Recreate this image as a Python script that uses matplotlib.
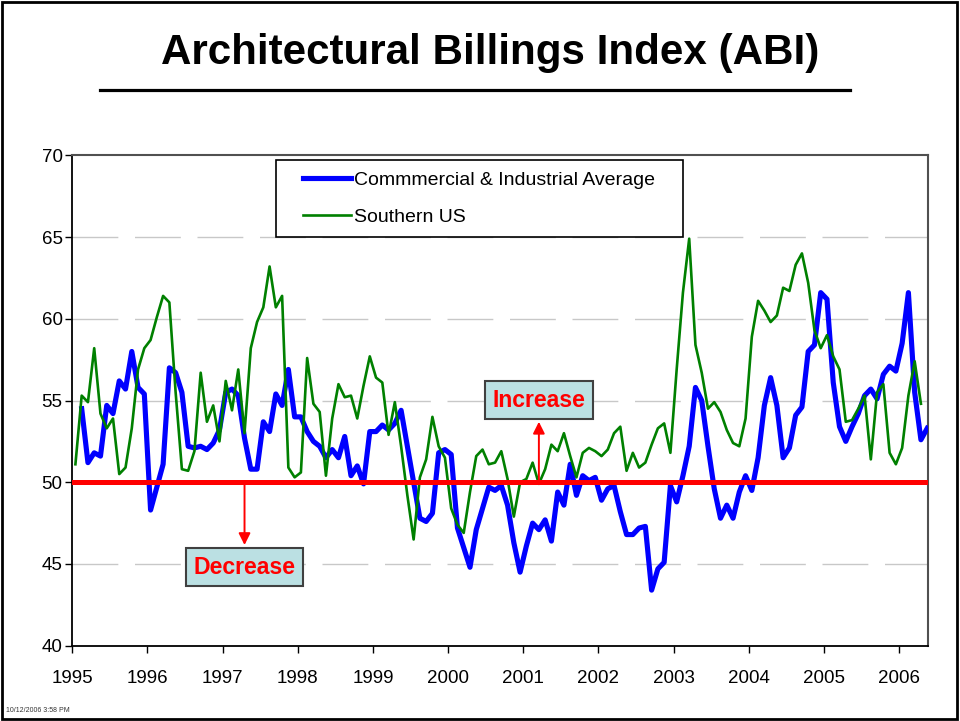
import numpy as np
import matplotlib
matplotlib.use("Agg")
import matplotlib.pyplot as plt
from matplotlib.patches import Rectangle
from matplotlib.lines import Line2D

plt.rcParams['font.family'] = ['Liberation Sans', 'DejaVu Sans']

# ---------------- data ----------------
title = "Architectural Billings Index (ABI)"
series_names = ["Commmercial & Industrial Average", "Southern US"]

# Commercial & Industrial Average, monthly, starting Feb 1995
ci_start = (1995, 2)
ci_values = [
    54.5, 51.2, 51.8, 51.6, 54.7, 54.2, 56.2, 55.7, 58.0, 55.8, 55.4,
    48.3, 49.7, 51.1, 57.0, 56.7, 55.5, 52.2, 52.1, 52.2, 52.0, 52.4, 53.2,
    55.5, 55.7, 55.3, 52.7, 50.8, 50.8, 53.7, 53.1, 55.4, 54.7, 56.9, 54.0,
    54.0, 53.1, 52.5, 52.2, 51.5, 52.0, 51.5, 52.8, 50.4, 51.0, 49.9, 53.1,
    53.1, 53.5, 53.2, 53.6, 54.4, 52.2, 50.0, 47.8, 47.6, 48.1, 51.8, 52.0,
    51.7, 47.2, 46.0, 44.8, 47.1, 48.4, 49.7, 49.5, 49.8, 48.6, 46.3, 44.5,
    46.1, 47.5, 47.1, 47.7, 46.4, 49.4, 48.6, 51.1, 49.2, 50.4, 50.1, 50.3,
    48.9, 49.6, 49.8, 48.2, 46.8, 46.8, 47.2, 47.3, 43.4, 44.7, 45.1, 49.8,
    48.8, 50.4, 52.2, 55.8, 55.0, 52.2, 49.6, 47.8, 48.6, 47.8, 49.4, 50.4,
    49.5, 51.5, 54.7, 56.4, 54.7, 51.5, 52.1, 54.1, 54.6, 58.0, 58.4, 61.6,
    61.2, 56.1, 53.4, 52.5, 53.4, 54.2, 55.3, 55.7, 55.1, 56.6, 57.1, 56.8,
    58.5, 61.6, 55.5, 52.6, 53.3,
]

# Southern US, monthly, starting Jan 1995
south_start = (1995, 1)
south_values = [
    51.1, 55.3, 54.9, 58.2, 54.2, 53.3, 53.9, 50.5, 50.9, 53.3, 56.9, 58.2,
    58.7, 60.1, 61.4, 61.0, 55.5, 50.8, 50.7, 51.9, 56.7, 53.7, 54.7, 52.5,
    56.2, 54.4, 56.9, 53.0, 58.2, 59.8, 60.7, 63.2, 60.7, 61.4, 50.9, 50.3,
    50.6, 57.6, 54.8, 54.3, 50.4, 53.9, 56.0, 55.2, 55.3, 53.9, 55.9, 57.7,
    56.4, 56.1, 52.9, 54.9, 52.2, 49.2, 46.5, 50.3, 51.4, 54.0, 52.2, 51.5,
    48.4, 47.4, 46.9, 49.4, 51.6, 52.0, 51.1, 51.2, 51.9, 50.2, 47.9, 50.0,
    50.2, 51.2, 49.9, 50.8, 52.3, 51.9, 53.0, 51.6, 50.3, 51.8, 52.1, 51.9,
    51.6, 52.0, 53.0, 53.4, 50.7, 51.8, 50.9, 51.2, 52.3, 53.3, 53.6, 51.8,
    56.9, 61.6, 64.9, 58.4, 56.7, 54.5, 54.9, 54.3, 53.2, 52.4, 52.2, 53.9,
    58.9, 61.1, 60.5, 59.8, 60.2, 61.9, 61.7, 63.3, 64.0, 62.2, 59.3, 58.2,
    59.0, 57.7, 56.9, 53.7, 53.8, 54.5, 55.3, 51.4, 55.5, 56.0, 51.8, 51.1,
    52.1, 55.3, 57.4, 54.8,
]

threshold = 50
year_ticks = list(range(1995, 2007))
y_ticks = [40, 45, 50, 55, 60, 65, 70]

annotations = [
    # label, (year, month) of arrow, direction
    ("Increase", (2001, 3), "up"),
    ("Decrease", (1997, 4), "down"),
]


def month_positions(start, n):
    y0, m0 = start
    idx = np.arange(n) + (m0 - 1)
    return y0 + (idx + 0.5) / 12.0


x_ci = month_positions(ci_start, len(ci_values))
x_south = month_positions(south_start, len(south_values))

# ---------------- figure ----------------
fig = plt.figure(figsize=(9.6, 7.21), dpi=100)
fig.patch.set_facecolor("white")
ax = fig.add_axes([0.0753, 0.1044, 0.8917, 0.6802])

# gridlines
for yv in y_ticks[1:-1]:
    ax.axhline(yv, color="#C8C8C8", lw=1.0, dashes=(33, 12), zorder=1)

l1, = ax.plot(x_ci, ci_values, color="#0000FF", lw=3.7, zorder=3,
              solid_joinstyle="round", label=series_names[0])
l2, = ax.plot(x_south, south_values, color="#008000", lw=1.9, zorder=4,
              solid_joinstyle="round", label=series_names[1])
ax.axhline(threshold, color="#FF0000", lw=3.6, zorder=5)

ax.set_xlim(1995, 2006.39)
ax.set_ylim(40, 70)
ax.set_xticks(year_ticks)
ax.set_xticklabels([str(y) for y in year_ticks])
ax.set_yticks(y_ticks)
ax.set_yticklabels([str(v) for v in y_ticks])
ax.tick_params(axis="both", labelsize=13.5, colors="black", direction="out",
               length=5, width=1.0)
ax.tick_params(axis="x", pad=12.5)
ax.tick_params(axis="y", pad=2)

for s in ["left", "bottom"]:
    ax.spines[s].set_color("black")
    ax.spines[s].set_linewidth(1.3)
for s in ["top", "right"]:
    ax.spines[s].set_color("#505050")
    ax.spines[s].set_linewidth(1.5)

# annotations
for label, (yr, mo), direction in annotations:
    xa = yr + (mo - 1 + 0.5) / 12.0
    if direction == "up":
        ytext, ytip = 55.03, 53.70
    else:
        ytext, ytip = 44.81, 46.16
    ax.annotate("", xy=(xa, ytip), xytext=(xa, threshold),
                arrowprops=dict(arrowstyle="-|>,head_length=0.7,head_width=0.35",
                                color="#FF0000", lw=1.4, shrinkA=0, shrinkB=0),
                zorder=6)
    ax.text(xa, ytext, label, ha="center", va="center", color="#FF0000",
            fontsize=16.6, fontweight="bold", zorder=7,
            bbox=dict(boxstyle="square,pad=0.33", facecolor="#BBE0E3",
                      edgecolor="#404040", lw=1.5))

# legend: frame + entries
ax.add_patch(Rectangle((0.238, 0.833), 0.475, 0.157, transform=ax.transAxes,
                       facecolor="white", edgecolor="black", lw=1.2, zorder=8))
leg = ax.legend(handles=[l1, l2], loc="upper left",
                bbox_to_anchor=(0.2695, 0.968), frameon=False, fontsize=14,
                handlelength=2.45, handletextpad=0.15, borderpad=0,
                borderaxespad=0, labelspacing=1.0)
leg.set_zorder(9)

# title and underline
fig.text(0.511, 0.926, title, ha="center", va="center", fontsize=30.3,
         fontweight="bold")
fig.add_artist(Line2D([100 / 960, 850 / 960], [1 - 90 / 721, 1 - 90 / 721],
                      color="black", lw=2.3, transform=fig.transFigure))

# figure frame
fig.add_artist(Rectangle((0.002, 0.003), 0.995, 0.994, transform=fig.transFigure,
                         fill=False, edgecolor="black", lw=2.0))

# footer
fig.text(0.006, 0.010, "10/12/2006 3:58 PM", fontsize=5, color="#333333",
         ha="left", va="bottom")

fig.savefig("out.png", dpi=100)
